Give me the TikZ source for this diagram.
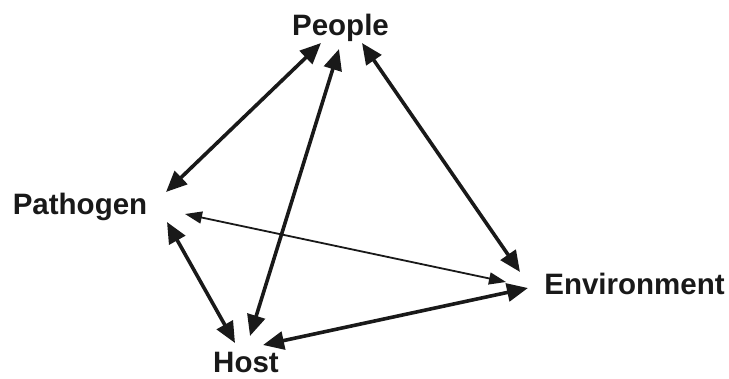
\documentclass[tikz,border=0pt]{standalone}
\usepackage{fontspec}
\setmainfont{Liberation Sans}
\usetikzlibrary{arrows.meta}
\tikzset{
  label/.style={font=\fontsize{29.5}{34}\selectfont\bfseries, anchor=base, inner sep=0pt, text=black!90},
  link/.style={line width=3.6pt, draw=black!90, {Triangle[length=21pt,width=18pt]}-{Triangle[length=21pt,width=18pt]}},
  thinlink/.style={line width=1.8pt, draw=black!90, {Triangle[length=17pt,width=12pt]}-{Triangle[length=17pt,width=12pt]}}
}
\begin{document}
\begin{tikzpicture}[x=1pt,y=-1pt]
  \useasboundingbox (0,0) rectangle (729,378);
  % labels
  \node[label] (people) at (340.5,35) {People};
  \node[label] (pathogen) at (80,214) {Pathogen};
  \node[label] (host) at (246,372) {Host};
  \node[label] (env) at (634.5,294) {Environment};
  % arrow end points around the labels
  \coordinate (peopleL) at (321,43);
  \coordinate (peopleM) at (339,49);
  \coordinate (peopleR) at (362,43);
  \coordinate (pathU) at (166,192);
  \coordinate (pathR) at (185,214);
  \coordinate (pathD) at (167,222);
  \coordinate (hostL) at (235,343);
  \coordinate (hostU) at (250,336);
  \coordinate (hostR) at (263,345);
  \coordinate (envU) at (520,272);
  \coordinate (envL) at (506,282);
  \coordinate (envD) at (528,288);
  % connectors
  \draw[link] (peopleL) -- (pathU);
  \draw[link] (peopleM) -- (hostU);
  \draw[link] (peopleR) -- (envU);
  \draw[thinlink] (pathR) -- (envL);
  \draw[link] (pathD) -- (hostL);
  \draw[link] (hostR) -- (envD);
\end{tikzpicture}
\end{document}
